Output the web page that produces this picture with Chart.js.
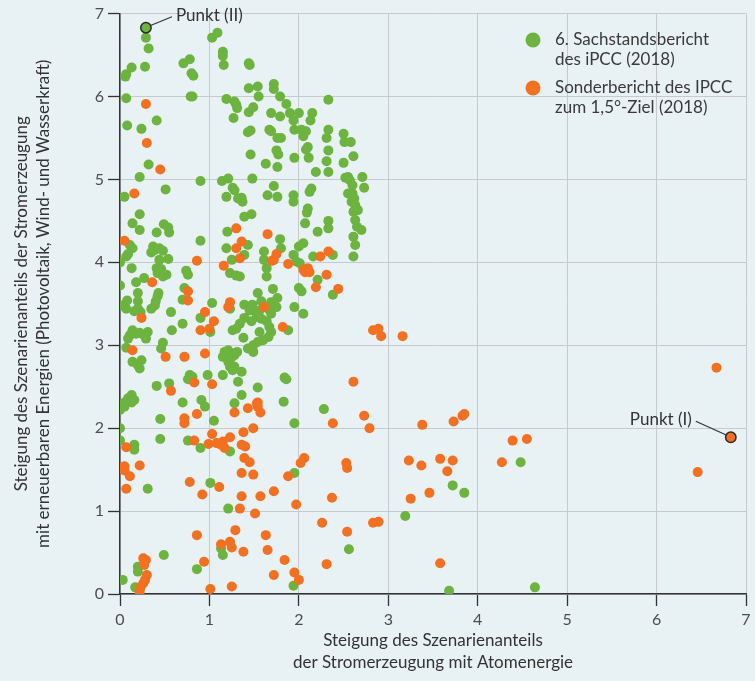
<!DOCTYPE html>
<html>
<head>
<meta charset="utf-8">
<script src="https://cdn.jsdelivr.net/npm/chart.js@4.4.0/dist/chart.umd.min.js"></script>
<style>
  html, body { margin: 0; padding: 0; background: #e8f1f3; }
  #chart { display: block; }
</style>
</head>
<body>
<canvas id="chart" width="755" height="681"></canvas>
<script>
// Achsen
var xTicks = [0, 1, 2, 3, 4, 5, 6, 7];
var yTicks = [0, 1, 2, 3, 4, 5, 6, 7];
var xTitle = ["Steigung des Szenarienanteils", "der Stromerzeugung mit Atomenergie"];
var yTitle = ["Steigung des Szenarienanteils der Stromerzeugung", "mit erneuerbaren Energien (Photovoltaik, Wind- und Wasserkraft)"];

// Legende
var legendSachstand = ["6. Sachstandsbericht", "des iPCC (2018)"];
var legendSonder = ["Sonderbericht des IPCC", "zum 1,5°-Ziel (2018)"];

// hervorgehobene Punkte
var punktI = [6.83, 1.89];
var punktII = [0.29, 6.83];

// 6. Sachstandsbericht (grün), [x, y]
var sachstandPunkte = [
  [0.29,6.71],[0.32,6.58],[0.28,6.36],[0.13,6.35],[0.07,6.27],[0.06,6.24],[0.71,6.40],[0.78,6.45],
  [0.80,6.28],[0.82,6.25],[1.03,6.71],[1.09,6.77],[1.15,6.54],[1.15,6.49],[1.16,6.38],[0.07,5.98],
  [0.79,6.00],[0.81,6.00],[1.19,5.97],[1.28,5.94],[1.30,5.90],[1.31,5.86],[1.27,5.74],[0.08,5.65],
  [0.24,5.61],[0.41,5.71],[0.32,5.18],[0.22,5.03],[0.51,4.88],[0.05,4.79],[0.90,4.98],[1.14,4.98],
  [1.21,5.01],[1.26,4.90],[1.28,4.87],[1.19,4.79],[1.32,4.77],
  [1.44,6.40],[1.45,6.38],[1.44,6.10],[1.54,6.12],[1.55,6.00],[1.72,6.15],[1.72,6.09],[1.79,6.00],
  [1.86,5.91],[1.90,5.80],[1.94,5.71],[2.00,5.80],[2.15,5.80],[2.13,5.71],[2.33,5.96],[1.69,5.80],
  [1.79,5.76],[1.44,5.81],[1.49,5.87],[1.43,5.57],[1.46,5.59],[1.67,5.60],[1.69,5.58],[1.76,5.50],
  [1.80,5.50],[1.95,5.60],[2.03,5.60],[2.08,5.58],[2.05,5.52],[2.10,5.39],[2.08,5.36],[2.11,5.26],
  [1.95,5.26],[1.75,5.35],[1.77,5.30],[1.76,5.15],[1.63,5.19],[1.46,5.30],[1.48,5.01],[2.19,5.09],
  [2.33,5.60],[2.31,5.50],[2.33,5.35],[2.31,5.22],[2.33,5.09],[2.50,5.55],[2.51,5.45],[2.58,5.45],
  [2.61,5.28],[2.50,5.20],[2.52,5.02],[2.55,5.03],[2.57,4.99],[2.71,5.03],[2.73,4.90],[2.60,4.93],
  [2.55,4.83],[2.60,4.83],[2.62,4.77],[2.59,4.73],[2.14,4.89],[2.12,4.85],[1.94,4.81],[1.94,4.73],
  [1.72,4.92],[1.65,4.81],[1.76,4.79],[1.36,4.78],[1.37,4.73],
  [0.22,4.58],[0.14,4.47],[0.22,4.39],[0.41,4.36],[0.49,4.46],[0.54,4.42],[0.55,4.36],[0.90,4.26],
  [0.11,4.21],[0.14,4.17],[0.37,4.19],[0.39,4.15],[0.35,4.12],[0.44,4.17],[0.48,4.14],[0.07,4.07],
  [0.09,4.10],[0.00,4.00],[0.13,3.93],[0.44,4.03],[0.54,4.04],[0.41,3.93],[0.46,3.92],[0.42,3.87],
  [0.52,3.85],[0.48,3.83],[0.74,3.90],[0.76,3.85],[0.27,3.81],[0.18,3.76],[0.00,3.72],[0.20,3.63],
  [0.43,3.63],[0.42,3.59],[0.40,3.53],[0.72,3.69],[0.70,3.55],[0.20,3.53],[0.08,3.54],[0.03,3.48],
  [0.07,3.44],[0.20,3.44],[0.16,3.41],[0.23,3.40],[0.35,3.44],[0.39,3.48],[0.57,3.40],[1.03,3.51],
  [1.23,3.44],[0.70,3.26],[0.90,3.33],[1.01,3.16],[1.26,3.18],[0.58,3.18],[0.14,3.18],[0.18,3.14],
  [0.11,3.12],[0.09,3.08],[0.22,3.15],[0.31,3.16],[0.27,3.12],[0.29,3.08],[0.48,3.03],[0.46,2.96],
  [0.07,2.97],[0.14,2.80],[0.20,2.76],[0.24,2.82],[0.22,2.72],[1.17,2.92],[1.21,2.94],[1.15,2.86],
  [1.24,2.84],[1.28,2.88],[1.31,2.92],[1.21,2.80],[1.23,2.74],[1.26,2.70],[1.15,2.64],[0.78,2.64],
  [0.81,2.62],[0.76,2.59],[0.98,2.64],[0.41,2.51],[0.55,2.54],[0.13,2.40],[0.09,2.36],[0.16,2.34],
  [0.05,2.31],[0.13,2.31],[0.70,2.31],[0.91,2.34],[1.20,4.37],[1.19,4.17],[1.25,4.03],[1.23,3.87],
  [1.30,3.84],
  [2.10,4.65],[2.09,4.60],[2.07,4.47],[2.33,4.50],[2.33,4.41],[2.21,4.37],[1.39,4.55],[1.47,4.58],
  [2.63,4.69],[2.61,4.61],[2.66,4.63],[2.63,4.51],[2.65,4.43],[2.70,4.39],[2.61,4.31],[2.63,4.21],
  [2.61,4.07],[1.43,4.21],[1.39,4.09],[1.79,4.28],[1.80,4.17],[1.61,4.13],[1.61,4.03],[1.94,4.09],
  [2.00,4.19],[2.05,4.23],[1.97,4.01],[2.01,3.99],[2.16,4.07],[2.38,4.09],[2.21,3.79],[2.38,3.61],
  [1.64,3.93],[1.64,3.83],[1.34,3.83],[2.00,3.69],[2.03,3.65],[1.71,3.68],[1.76,3.57],[1.69,3.52],
  [1.54,3.63],[1.39,3.49],[1.48,3.49],[1.58,3.53],
  [1.45,3.42],[1.51,3.41],[1.56,3.42],[1.66,3.44],[1.75,3.46],[1.69,3.38],[1.53,3.34],[1.58,3.32],
  [1.64,3.29],[1.67,3.22],[1.69,3.16],[1.66,3.10],[1.60,3.06],[1.54,3.04],[1.49,3.00],[1.43,2.96],
  [1.49,2.92],[1.47,3.29],[1.39,3.33],[1.34,3.26],[1.30,3.20],[1.38,3.09],[1.56,3.16],[1.95,3.46],
  [2.05,3.38],[1.88,3.18],[1.36,2.68],[1.28,2.74],[1.32,2.56],[1.36,2.40],[1.84,2.61],[1.86,2.59],
  [1.54,2.49],[1.83,2.32],
  [0.05,2.26],[0.00,2.22],[0.95,2.26],[1.28,2.30],[0.45,2.11],[1.05,2.09],[0.00,2.00],[0.00,1.85],
  [0.16,1.80],[0.16,1.74],[0.45,1.87],[0.76,1.85],[0.90,1.76],[1.23,1.72],[0.31,1.27],[1.01,1.34],
  [1.21,1.03],[1.13,0.55],[1.15,0.47],[0.49,0.47],[0.86,0.30],[0.03,0.17],[0.20,0.33],[0.20,0.27],
  [0.17,0.08],
  [1.95,2.06],[2.28,2.23],[1.95,1.46],[2.56,0.54],[1.94,0.10],
  [4.48,1.59],[3.72,1.31],[3.85,1.22],[3.19,0.94],[3.68,0.04],[4.64,0.08]
];

// Sonderbericht 1,5°-Ziel (orange), [x, y]
var sonderPunkte = [
  [0.29,5.91],[0.30,5.44],[0.45,5.12],[0.16,4.83],
  [0.05,4.26],[0.36,3.76],[0.76,3.65],[0.76,3.54],[1.23,3.52],[1.21,3.46],[0.95,3.40],[0.24,3.33],
  [1.05,3.29],[0.90,3.18],[1.00,3.20],[0.14,2.94],[0.51,2.86],[0.72,2.86],[0.95,2.90],[0.83,2.55],
  [1.03,2.53],[0.57,2.45],[0.86,4.02],[1.16,3.96],
  [1.30,4.41],[1.36,4.25],[1.30,4.17],[1.34,4.05],[1.65,4.34],[1.75,4.10],[1.72,4.03],[1.70,4.02],
  [1.88,3.98],[2.24,4.07],[2.33,4.13],[2.05,3.91],[2.10,3.93],[2.12,3.88],[2.07,3.88],[2.31,3.85],
  [2.19,3.70],[2.44,3.68],[1.61,3.46],[1.82,3.22],[2.61,2.56],[1.54,2.31],
  [0.72,2.12],[0.72,2.06],[0.86,2.17],[1.28,2.19],[0.07,1.77],[0.83,1.85],[1.03,1.93],[0.99,1.81],
  [1.08,1.82],[1.15,1.84],[1.23,1.89],[1.17,1.76],[1.13,1.80],[0.05,1.54],[0.05,1.49],[0.11,1.42],
  [0.22,1.55],[0.07,1.27],[0.78,1.35],[1.11,1.29],[0.92,1.20],[1.29,0.77],[0.86,0.71],[1.13,0.60],
  [1.23,0.63],[1.25,0.56],[0.94,0.39],[0.26,0.43],[0.29,0.41],[0.27,0.35],[0.30,0.23],[0.28,0.17],
  [0.26,0.13],[0.23,0.08],[0.22,0.02],[1.01,0.06],[1.25,0.09],
  [1.43,2.24],[1.53,2.30],[1.54,2.26],[1.57,2.19],[2.38,2.06],[2.73,2.15],[1.38,1.95],[1.49,2.00],
  [1.36,1.80],[1.40,1.78],[1.39,1.64],[1.45,1.59],[1.36,1.46],[1.49,1.44],[1.88,1.42],[2.02,1.58],
  [2.06,1.64],[2.53,1.58],[2.54,1.52],[1.36,1.18],[1.57,1.18],[1.72,1.24],[1.34,1.03],[1.51,0.97],
  [1.97,1.08],[2.37,1.16],[2.26,0.86],[2.54,0.75],[1.63,0.71],[1.38,0.51],[1.65,0.53],[1.84,0.41],
  [2.31,0.36],[1.72,0.23],[1.95,0.26],[2.00,0.17],
  [2.83,3.18],[2.89,3.20],[2.92,3.11],[3.16,3.11],[2.79,2.00],[3.38,2.04],[3.73,2.08],[3.83,2.15],
  [3.85,2.17],[4.39,1.85],[4.55,1.87],[3.23,1.61],[3.37,1.55],[3.58,1.63],[3.72,1.61],[3.66,1.48],
  [4.27,1.59],[3.25,1.15],[3.46,1.22],[2.83,0.86],[2.89,0.87],[3.58,0.37],
  [6.67,2.73],[6.46,1.47]
];

var GRUEN = "#6cb33f";
var ORANGE = "#f37021";
var FONT = "Lato";

function toXY(list) {
  return list.map(function (p) { return { x: p[0], y: p[1] }; });
}

// Hintergrund, Legende und Beschriftung der Punkte
var extras = {
  id: "extras",
  beforeDraw: function (chart) {
    var c = chart.ctx;
    c.save();
    c.fillStyle = "#e8f1f3";
    c.fillRect(0, 0, chart.width, chart.height);
    c.restore();
  },
  afterDatasetsDraw: function (chart) {
    var c = chart.ctx;
    var sx = chart.scales.x, sy = chart.scales.y;
    c.save();
    c.font = "17px " + FONT;
    c.fillStyle = "#333333";
    c.strokeStyle = "#333333";
    c.lineWidth = 1.2;
    c.textBaseline = "middle";

    // Punkt (II)
    var px = sx.getPixelForValue(punktII[0]), py = sy.getPixelForValue(punktII[1]);
    c.beginPath();
    c.moveTo(px + 4, py - 2);
    c.lineTo(px + 26, py - 11);
    c.stroke();
    c.textAlign = "left";
    c.fillText("Punkt (II)", px + 30, py - 12);

    // Punkt (I)
    px = sx.getPixelForValue(punktI[0]); py = sy.getPixelForValue(punktI[1]);
    c.beginPath();
    c.moveTo(px - 4, py - 2);
    c.lineTo(px - 35, py - 16);
    c.stroke();
    c.textAlign = "right";
    c.fillText("Punkt (I)", px - 39, py - 18);

    // Legende
    var lx = 533;
    var rows = [[GRUEN, legendSachstand, 40], [ORANGE, legendSonder, 88]];
    c.textAlign = "left";
    rows.forEach(function (r) {
      c.fillStyle = r[0];
      c.beginPath();
      c.arc(lx, r[2], 7.5, 0, Math.PI * 2);
      c.fill();
      c.fillStyle = "#3a3a3a";
      c.fillText(r[1][0], lx + 22, r[2]);
      c.fillText(r[1][1], lx + 22, r[2] + 19.5);
    });
    c.restore();
  }
};

var ctx = document.getElementById("chart").getContext("2d");

var achse = function (ticks, title, isX) {
  return {
    type: "linear",
    min: 0,
    max: 7,
    afterBuildTicks: function (s) {
      s.ticks = ticks.map(function (v) { return { value: v }; });
    },
    ticks: { font: { family: FONT, size: 16 }, color: "#4d4d4d", padding: 4 },
    grid: { color: "#c6cacd", lineWidth: 1, tickLength: 12, tickColor: "#333333", tickWidth: 1.3 },
    border: { color: "#333333", width: 1.5 },
    title: {
      display: true,
      text: title,
      color: "#333333",
      font: { family: FONT, size: 17, lineHeight: 1.3 },
      padding: isX ? { top: 0, bottom: 7 } : { top: 10, bottom: 0 }
    },
    afterFit: function (s) {
      if (isX) s.height = 87; else s.width = 120;
    }
  };
};

var chart = new Chart(ctx, {
  type: "scatter",
  data: {
    datasets: [
      { label: "Punkt (I)", data: toXY([punktI]), backgroundColor: ORANGE, borderColor: "#2b2b2b", borderWidth: 1.5, pointRadius: 5.2, order: 0 },
      { label: "Punkt (II)", data: toXY([punktII]), backgroundColor: GRUEN, borderColor: "#2b2b2b", borderWidth: 1.5, pointRadius: 5.2, order: 0 },
      { label: legendSonder.join(" "), data: toXY(sonderPunkte), backgroundColor: ORANGE, borderWidth: 0, pointRadius: 5, order: 1 },
      { label: legendSachstand.join(" "), data: toXY(sachstandPunkte), backgroundColor: GRUEN, borderWidth: 0, pointRadius: 5, order: 2 }
    ]
  },
  options: {
    responsive: false,
    animation: false,
    devicePixelRatio: 1,
    events: [],
    layout: { padding: { top: 13, right: 9, left: 0, bottom: 0 } },
    plugins: { legend: { display: false }, tooltip: { enabled: false } },
    scales: {
      x: achse(xTicks, xTitle, true),
      y: achse(yTicks, yTitle, false)
    }
  },
  plugins: [extras]
});
</script>
</body>
</html>
